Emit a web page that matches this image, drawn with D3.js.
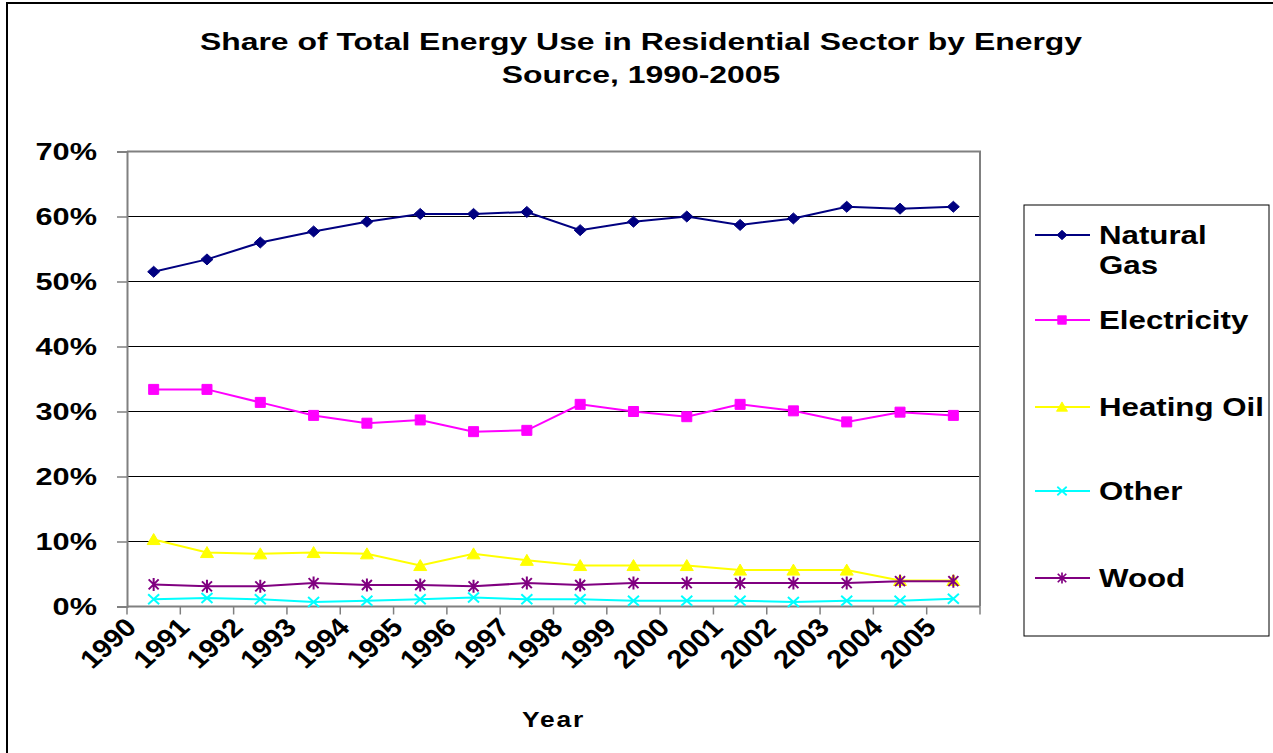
<!DOCTYPE html>
<html>
<head>
<meta charset="utf-8">
<script src="https://cdn.jsdelivr.net/npm/d3@7"></script>
<style>
	body { margin: 0; background: #fff; }
	svg text { font-family: Arial, "Liberation Sans", sans-serif; font-weight: bold; fill: #000; }
</style>
</head>
<body>
<svg id="chart" width="1273" height="753"></svg>
<script>

// values (share of total, %)
const years = ['1990', '1991', '1992', '1993', '1994', '1995', '1996', '1997',
	'1998', '1999', '2000', '2001', '2002', '2003', '2004', '2005'];
const naturalGas = [51.5, 53.4, 56.0, 57.7, 59.2, 60.4, 60.4, 60.7, 57.9, 59.2, 60.0, 58.7, 59.7, 61.5, 61.2, 61.5];
const electricity = [33.4, 33.4, 31.4, 29.4, 28.2, 28.7, 26.9, 27.1, 31.1, 30.0, 29.2, 31.1, 30.1, 28.4, 29.9, 29.4];
const heatingOil = [10.3, 8.3, 8.1, 8.3, 8.1, 6.3, 8.1, 7.1, 6.3, 6.3, 6.3, 5.6, 5.6, 5.6, 4.0, 4.0];
const other = [1.1, 1.3, 1.1, 0.7, 0.9, 1.1, 1.4, 1.1, 1.1, 0.9, 0.9, 0.9, 0.7, 0.9, 0.9, 1.2];
const wood = [3.4, 3.1, 3.1, 3.6, 3.3, 3.3, 3.1, 3.6, 3.3, 3.6, 3.6, 3.6, 3.6, 3.6, 3.9, 3.9];
const yTicks = [0, 10, 20, 30, 40, 50, 60, 70];
const seriesNames = ['Natural Gas', 'Electricity', 'Heating Oil', 'Other', 'Wood'];
const titleLines = ['Share of Total Energy Use in Residential Sector by Energy', 'Source, 1990-2005'];

class EnergyChart {

	constructor (svg) {
		this.svg = svg;
		this.x = d3.scaleBand().domain(years).range([127, 980]);
		this.y = d3.scaleLinear().domain([0, 70]).range([606.5, 151.5]);
		this.series = [
			{ name: seriesNames[0], values: naturalGas, color: '#000080', marker: 'diamond' },
			{ name: seriesNames[1], values: electricity, color: '#ff00ff', marker: 'square' },
			{ name: seriesNames[2], values: heatingOil, color: '#ffff00', marker: 'triangle' },
			{ name: seriesNames[3], values: other, color: '#00ffff', marker: 'times' },
			{ name: seriesNames[4], values: wood, color: '#800080', marker: 'asterisk' }
		];
	}

	markerPath (type) {
		switch (type) {
			case 'diamond': return 'M0,-5.5L6,0L0,5.5L-6,0Z';
			case 'square': return 'M-5,-5H5V5H-5Z';
			case 'triangle': return 'M0,-6L6.5,5H-6.5Z';
			case 'times': return 'M-5.5,-5L5.5,5M-5.5,5L5.5,-5';
			default: return 'M-5,-5L5,5M-5,5L5,-5M0,-6.5V6.5';
		}
	}

	drawFrame () {
		this.svg.append('rect')
			.attr('x', 7).attr('y', 3)
			.attr('width', 1300).attr('height', 800)
			.attr('fill', 'none')
			.attr('stroke', '#000')
			.attr('stroke-width', 2);

		this.svg.append('g')
			.selectAll('text')
			.data(titleLines)
			.join('text')
			.attr('text-anchor', 'middle')
			.attr('font-size', 24)
			.attr('transform', (d, i) => `translate(641, ${50 + i * 33}) scale(1.33, 1)`)
			.text(d => d);
	}

	drawAxes () {
		let x = this.x, y = this.y;
		let left = x.range()[0], right = x.range()[1];

		// gridlines
		this.svg.append('g')
			.selectAll('line')
			.data(yTicks.filter(d => d > 0 && d < 70))
			.join('line')
			.attr('x1', left).attr('x2', right)
			.attr('y1', d => y(d)).attr('y2', d => y(d))
			.attr('stroke', '#000')
			.attr('stroke-width', 1);

		// plot area border
		this.svg.append('path')
			.attr('d', `M${left},${y(70)}H${right}V${y(0)}`)
			.attr('fill', 'none')
			.attr('stroke', '#808080')
			.attr('stroke-width', 2);

		let yAxis = this.svg.append('g')
			.attr('transform', `translate(${left},0)`)
			.call(d3.axisLeft(y).tickValues(yTicks).tickSize(10).tickFormat(d => d + '%'));
		yAxis.select('.domain').attr('stroke', '#808080').attr('stroke-width', 2);
		yAxis.selectAll('.tick line').attr('stroke', '#808080').attr('stroke-width', 1.5);
		yAxis.selectAll('.tick text')
			.attr('x', 0)
			.attr('font-size', 24)
			.attr('font-family', null)
			.attr('transform', 'translate(-30, 0) scale(1.28, 1)');

		// x axis: ticks sit between categories
		let edges = years.map(d => x(d)).concat([right]);
		this.svg.append('line')
			.attr('x1', left).attr('x2', right)
			.attr('y1', y(0)).attr('y2', y(0))
			.attr('stroke', '#808080')
			.attr('stroke-width', 2);
		this.svg.append('g')
			.selectAll('line')
			.data(edges)
			.join('line')
			.attr('x1', d => d).attr('x2', d => d)
			.attr('y1', y(0)).attr('y2', y(0) + 8)
			.attr('stroke', '#808080')
			.attr('stroke-width', 1.5);

		this.svg.append('g')
			.selectAll('text')
			.data(years)
			.join('text')
			.attr('text-anchor', 'end')
			.attr('font-size', 26)
			.attr('transform', d => `translate(${x(d) + 11}, 629) scale(1.12, 1) rotate(-45)`)
			.text(d => d);

		this.svg.append('text')
			.attr('text-anchor', 'middle')
			.attr('font-size', 22)
			.attr('letter-spacing', 1.5)
			.attr('transform', `translate(${(left + right) / 2}, 727) scale(1.2, 1)`)
			.text('Year');
	}

	drawLines () {
		let that = this;
		let x = this.x, y = this.y;
		let line = d3.line()
			.x((d, i) => x(years[i]) + x.bandwidth() / 2)
			.y(d => y(d));

		this.series.forEach(s => {
			let g = that.svg.append('g');
			g.append('path')
				.attr('d', line(s.values))
				.attr('fill', 'none')
				.attr('stroke', s.color)
				.attr('stroke-width', 2);
			g.selectAll('path.marker')
				.data(s.values)
				.join('path')
				.classed('marker', true)
				.attr('d', that.markerPath(s.marker))
				.attr('transform', (d, i) => `translate(${x(years[i]) + x.bandwidth() / 2}, ${y(d)})`)
				.attr('fill', s.marker === 'times' || s.marker === 'asterisk' ? 'none' : s.color)
				.attr('stroke', s.color)
				.attr('stroke-width', s.marker === 'times' || s.marker === 'asterisk' ? 2 : 1);
		});
	}

	drawLegend () {
		let that = this;
		let rowY = [235, 320, 407, 491, 578];

		this.svg.append('rect')
			.attr('x', 1024).attr('y', 205)
			.attr('width', 245).attr('height', 431)
			.attr('fill', '#fff')
			.attr('stroke', '#000')
			.attr('stroke-width', 1);

		let rows = this.svg.append('g')
			.selectAll('g')
			.data(this.series)
			.join('g')
			.attr('transform', (d, i) => `translate(0, ${rowY[i]})`);

		rows.append('line')
			.attr('x1', 1035).attr('x2', 1090)
			.attr('stroke', d => d.color)
			.attr('stroke-width', 2);
		rows.append('path')
			.attr('d', d => that.markerPath(d.marker))
			.attr('transform', 'translate(1062, 0) scale(0.85)')
			.attr('fill', d => d.marker === 'times' || d.marker === 'asterisk' ? 'none' : d.color)
			.attr('stroke', d => d.color)
			.attr('stroke-width', d => d.marker === 'times' || d.marker === 'asterisk' ? 2 : 1);

		// "Natural Gas" wraps onto two lines in the original
		rows.each(function (d) {
			let words = d.name === 'Natural Gas' ? ['Natural', 'Gas'] : [d.name];
			d3.select(this).selectAll('text')
				.data(words)
				.join('text')
				.attr('font-size', 25)
				.attr('transform', (w, i) => `translate(1099, ${9 + i * 30}) scale(1.25, 1)`)
				.text(w => w);
		});
	}
}

let chart = new EnergyChart(d3.select('#chart'));
chart.drawFrame();
chart.drawAxes();
chart.drawLines();
chart.drawLegend();
</script>
</body>
</html>
